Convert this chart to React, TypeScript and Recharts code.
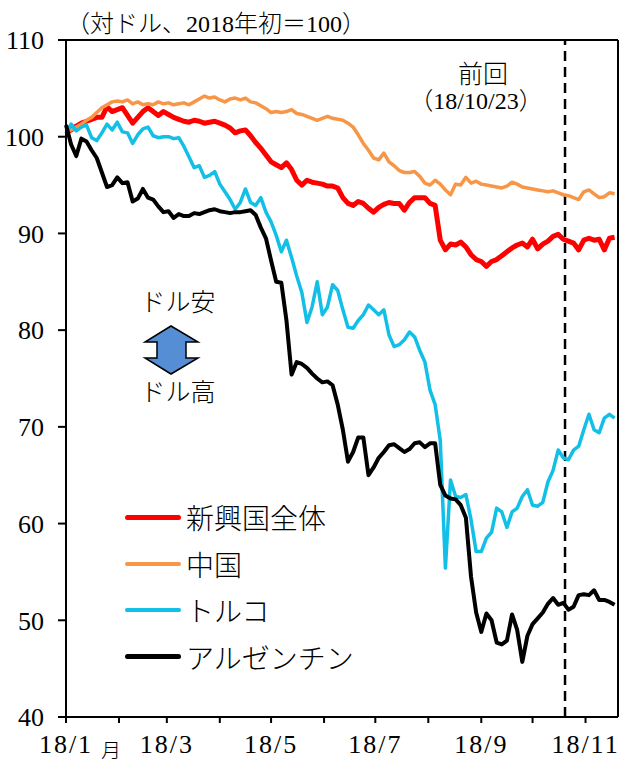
import React from 'react';
import { LineChart, Line, XAxis, YAxis, ReferenceLine, Legend } from 'recharts';

// days since 2018/1/1, sampled every 3 days
const days = [
  0, 3, 6, 9, 12, 15, 18, 21, 24, 27, 30, 33, 36, 39, 42, 45, 48, 51, 54, 57,
  60, 63, 66, 69, 72, 75, 78, 81, 84, 87, 90, 93, 96, 99, 102, 105, 108, 111, 114, 117,
  120, 123, 126, 129, 132, 135, 138, 141, 144, 147, 150, 153, 156, 159, 162, 165, 168, 171, 174, 177,
  180, 183, 186, 189, 192, 195, 198, 201, 204, 207, 210, 213, 216, 219, 222, 225, 228, 231, 234, 237,
  240, 243, 246, 249, 252, 255, 258, 261, 264, 267, 270, 273, 276, 279, 282, 285, 288, 291, 294, 297,
  300, 303, 306, 309, 312, 315, 318, 321,
];

const emerging = [
  100.4, 100.7, 101.1, 101.4, 101.6, 101.8, 102.0, 102.0, 103.1, 102.6,
  102.8, 103.0, 102.2, 101.4, 102.0, 102.6, 103.0, 102.6, 102.2, 102.6,
  102.3, 102.0, 101.8, 101.6, 101.5, 101.7, 101.6, 101.4, 101.5, 101.6,
  101.4, 101.2, 100.9, 100.4, 100.6, 100.7, 100.1, 99.4, 98.8, 98.1,
  97.4, 97.1, 96.8, 97.3, 96.6, 95.5, 95.0, 95.5, 95.3, 95.2,
  95.1, 94.9, 94.9, 94.7, 93.7, 93.1, 92.9, 93.3, 93.1, 92.6,
  92.2, 92.7, 93.0, 93.2, 93.1, 93.1, 92.4, 93.2, 93.7, 93.7,
  93.7, 93.1, 92.9, 89.3, 88.3, 88.9, 88.8, 89.1, 88.6, 87.8,
  87.3, 87.1, 86.6, 87.1, 87.3, 87.7, 88.1, 88.5, 88.8, 89.0,
  88.6, 89.4, 88.4, 88.9, 89.2, 89.7, 89.9, 89.4, 89.2, 89.0,
  88.3, 89.3, 89.5, 89.3, 89.4, 88.3, 89.5, 89.6,
];

const china = [
  100.5, 100.7, 101.0, 101.3, 101.7, 102.0, 102.5, 103.0, 103.3, 103.6,
  103.7, 103.6, 103.8, 103.4, 103.6, 103.3, 103.4, 103.3, 103.6, 103.4,
  103.5, 103.3, 103.4, 103.5, 103.3, 103.6, 103.9, 104.2, 104.0, 104.1,
  103.8, 103.6, 103.9, 104.0, 103.8, 104.0, 103.6, 103.5, 103.2, 102.9,
  102.5, 102.6, 102.5, 102.6, 102.8, 102.4, 102.3, 102.1, 101.9, 101.7,
  101.9, 102.1, 101.9, 101.8, 101.7, 101.4, 101.0, 100.2, 99.3, 98.6,
  97.8, 97.6, 98.3, 97.4, 97.0, 96.5, 96.3, 96.3, 96.4, 95.9,
  95.2, 95.0, 95.5, 95.1, 94.5, 94.0, 95.1, 95.0, 95.8, 95.2,
  95.4, 95.1, 95.0, 94.9, 94.8, 94.7, 94.9, 95.3, 95.1, 94.8,
  94.7, 94.6, 94.5, 94.4, 94.3, 94.4, 94.2, 94.0, 93.9, 93.7,
  93.5, 94.3, 94.5, 94.1, 93.7, 93.8, 94.2, 94.1,
];

const turkey = [
  100.3, 101.3, 100.6, 101.0, 101.2, 99.9, 99.6, 100.4, 101.3, 100.7,
  101.5, 100.5, 100.4, 99.3, 100.2, 100.8, 101.0, 100.1, 99.9, 100.0,
  100.0, 99.8, 99.9, 99.0, 97.9, 96.8, 97.0, 95.8, 96.0, 96.4,
  95.1, 94.3, 93.5, 92.5, 93.2, 94.6, 93.2, 92.9, 93.7, 92.2,
  91.2, 89.8, 88.1, 89.3, 87.5, 85.6, 83.9, 80.8, 82.4, 85.0,
  81.6, 82.4, 84.7, 84.1, 82.1, 80.3, 80.2, 81.0, 81.6, 82.6,
  82.1, 81.6, 82.1, 79.5, 78.3, 78.5, 79.0, 79.8, 79.3, 77.9,
  76.7, 73.8, 72.3, 68.6, 55.4, 64.5, 62.8, 62.7, 63.0, 60.4,
  57.1, 57.1, 58.5, 59.1, 61.6, 61.2, 59.6, 61.2, 61.6, 62.8,
  63.5, 61.9, 61.8, 62.2, 64.3, 65.5, 67.6, 66.8, 66.6, 67.6,
  68.0, 69.7, 71.3, 69.7, 69.4, 70.9, 71.3, 70.9,
];

const argentina = [
  101.2, 99.2, 98.0, 99.8, 99.5, 98.6, 97.8, 96.3, 94.8, 95.0,
  95.8, 95.2, 95.3, 93.3, 93.6, 94.6, 93.7, 93.5, 92.8, 92.2,
  92.3, 91.6, 92.0, 91.8, 91.8, 92.1, 92.0, 92.2, 92.4, 92.5,
  92.3, 92.2, 92.1, 92.2, 92.2, 92.3, 92.4, 91.9, 90.6, 89.5,
  87.2, 85.0, 84.9, 81.0, 75.4, 76.7, 76.5, 76.1, 75.5, 75.0,
  74.6, 74.7, 74.3, 72.3, 69.7, 66.4, 67.4, 68.9, 68.9, 65.0,
  65.8, 66.8, 67.4, 68.1, 68.2, 67.8, 67.4, 67.7, 68.3, 68.4,
  67.9, 68.3, 68.3, 64.0, 62.9, 62.6, 62.5, 61.9, 60.6, 54.5,
  50.8, 48.8, 50.7, 50.0, 47.7, 47.5, 47.9, 50.6, 49.0, 45.7,
  48.4, 49.6, 50.2, 50.8, 51.7, 52.3, 51.6, 51.8, 51.1, 51.4,
  52.6, 52.7, 52.6, 53.1, 52.1, 52.1, 51.9, 51.6,
];

// month starts (day of year) and which get a label
const monthTicks = [0, 31, 59, 90, 120, 151, 181, 212, 243, 273, 304];
const monthLabels: Record<number, string> = {
  0: '18/1', 59: '18/3', 120: '18/5', 181: '18/7', 243: '18/9', 304: '18/11',
};
const yTicks = [40, 50, 60, 70, 80, 90, 100, 110];
const prevDay = 292; // 18/10/23

const series = [
  { key: 'em', name: '新興国全体', color: '#ff0000', width: 5 },
  { key: 'cn', name: '中国', color: '#f79646', width: 3.5 },
  { key: 'tr', name: 'トルコ', color: '#12bfe6', width: 3.5 },
  { key: 'ar', name: 'アルゼンチン', color: '#000000', width: 4 },
];

const data = days.map((d, i) => ({
  day: d,
  em: emerging[i],
  cn: china[i],
  tr: turkey[i],
  ar: argentina[i],
}));

const FONT = "'Liberation Serif', 'Noto Sans CJK JP', serif";
const JP = "'Noto Sans CJK JP', sans-serif";

const MonthTick = (props: any) => {
  const { x, y, payload } = props;
  const label = monthLabels[payload.value];
  if (!label) return null;
  return (
    <g>
      <text x={x} y={y + 28} textAnchor="middle" fontSize={26} fontFamily={FONT} letterSpacing={2} fill="#000">
        {label}
      </text>
      {payload.value === 0 && (
        <text x={x + 45} y={y + 33} textAnchor="middle" fontSize={20} fontFamily={JP} fontWeight={300} fill="#000">月</text>
      )}
    </g>
  );
};

const LegendBox = () => (
  <div style={{ fontFamily: JP, fontSize: 28, fontWeight: 300, color: '#000' }}>
    {series.map(s => (
      <div key={s.key} style={{ display: 'flex', alignItems: 'center', height: 46.5 }}>
        <span style={{ display: 'inline-block', width: 56, height: s.key === 'em' || s.key === 'ar' ? 5 : 4, background: s.color, borderRadius: 3, marginRight: 5 }} />
        <span style={{ lineHeight: '30px' }}>{s.name}</span>
      </div>
    ))}
  </div>
);

export default function App() {
  return (
    <div style={{ position: 'absolute', left: 0, top: 0, width: 626, height: 765, background: '#fff' }}>
      <LineChart width={626} height={765} data={data} margin={{ top: 40, right: 8, bottom: 18, left: 6 }}>
        <XAxis
          dataKey="day"
          type="number"
          domain={[0, 323]}
          ticks={monthTicks}
          interval={0}
          height={30}
          tickSize={6}
          tickMargin={2}
          axisLine={{ stroke: '#000', strokeWidth: 2 }}
          tickLine={{ stroke: '#000', strokeWidth: 2 }}
          tick={<MonthTick />}
        />
        <YAxis
          type="number"
          domain={[40, 110]}
          ticks={yTicks}
          interval={0}
          width={60}
          tickSize={8}
          tickMargin={14}
          axisLine={{ stroke: '#000', strokeWidth: 2 }}
          tickLine={{ stroke: '#000', strokeWidth: 2 }}
          tick={{ fill: '#000', fontSize: 26, fontFamily: FONT }}
        />
        <ReferenceLine y={110} stroke="#000" strokeWidth={2} />
        <ReferenceLine x={323} stroke="#000" strokeWidth={2} />
        <ReferenceLine x={prevDay} stroke="#000" strokeWidth={2.5} strokeDasharray="10 6" />
        {series.map(s => (
          <Line
            key={s.key}
            type="linear"
            dataKey={s.key}
            name={s.name}
            stroke={s.color}
            strokeWidth={s.width}
            dot={false}
            activeDot={false}
            isAnimationActive={false}
            strokeLinejoin="round"
          />
        ))}
        <Legend
          layout="vertical"
          align="center"
          verticalAlign="middle"
          content={<LegendBox />}
          wrapperStyle={{ left: 125, top: 494, width: 260 }}
        />
      </LineChart>
      <svg width={626} height={765} style={{ position: 'absolute', left: 0, top: 0, pointerEvents: 'none' }}>
        <text x={66} y={32} fontSize={24} fontFamily={FONT} fontWeight={300} fill="#000">（対ドル、2018年初＝100）</text>
        <text x={483} y={83} textAnchor="middle" fontSize={25} fontFamily={FONT} fontWeight={300} fill="#000">前回</text>
        <text x={476} y={109} textAnchor="middle" fontSize={24} fontFamily={FONT} fontWeight={300} fill="#000">（18/10/23）</text>
        <text x={178} y={311} textAnchor="middle" fontSize={25} fontFamily={FONT} fontWeight={300} fill="#000">ドル安</text>
        <polygon
          points="171,326 198,342 186,342 186,358 198,358 171,374 145,358 157,358 157,342 145,342"
          fill="#558ed5"
          stroke="#000"
          strokeWidth={1.5}
          strokeLinejoin="miter"
        />
        <text x={178} y={401} textAnchor="middle" fontSize={25} fontFamily={FONT} fontWeight={300} fill="#000">ドル高</text>
      </svg>
    </div>
  );
}
